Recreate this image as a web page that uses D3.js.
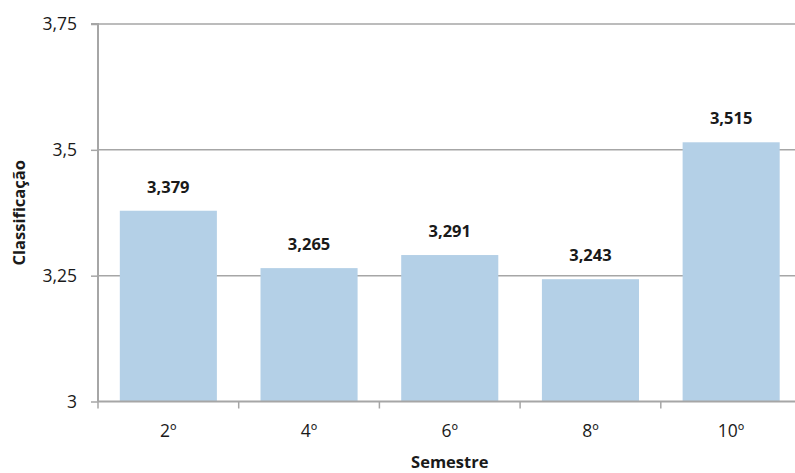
<!DOCTYPE html>
<html>
<head>
<meta charset="utf-8">
<script src="https://cdn.jsdelivr.net/npm/d3@7"></script>
<style>
  html, body { margin: 0; padding: 0; background: #fff; }
  svg { display: block; }
  text { font-family: "Open Sans", "Noto Sans", sans-serif; fill: #1a1a1a; }
</style>
</head>
<body>
<svg id="chart" width="795" height="473"></svg>
<script>
// Average classification per semester
const semesters = ["2º", "4º", "6º", "8º", "10º"];
const scores = [3.379, 3.265, 3.291, 3.243, 3.515];
const yTicks = [3, 3.25, 3.5, 3.75];
const yTickLabels = ["3", "3,25", "3,5", "3,75"];

const svg = d3.select("#chart");
const margin = { left: 98, top: 24 };
const plotW = 703.5, plotH = 377.5;

const g = svg.append("g").attr("transform", `translate(${margin.left},${margin.top})`);

const x = d3.scaleBand().domain(semesters).range([0, plotW]).paddingInner(0.31).paddingOuter(0.155);
const y = d3.scaleLinear().domain([3, 3.75]).range([plotH, 0]);

// horizontal gridlines
g.selectAll("line.grid").data(yTicks.slice(1)).enter().append("line")
  .attr("class", "grid")
  .attr("x1", 0).attr("x2", plotW)
  .attr("y1", d => y(d)).attr("y2", d => y(d))
  .attr("stroke", "#a6a6a6").attr("stroke-width", 1.5);

// bars
g.selectAll("rect.bar").data(scores).enter().append("rect")
  .attr("class", "bar")
  .attr("x", (d, i) => x(semesters[i]))
  .attr("width", x.bandwidth())
  .attr("y", d => y(d))
  .attr("height", d => plotH - y(d))
  .attr("fill", "#b4d0e7");

// value labels
g.selectAll("text.val").data(scores).enter().append("text")
  .attr("class", "val")
  .attr("x", (d, i) => x(semesters[i]) + x.bandwidth() / 2)
  .attr("y", d => y(d) - 18)
  .attr("text-anchor", "middle")
  .attr("font-size", 16.5)
  .attr("font-weight", "bold")
  .text(d => d3.format(".3f")(d).replace(".", ","));

// y axis
const yAxis = d3.axisLeft(y).tickValues(yTicks).tickSize(7).tickPadding(14)
  .tickFormat((d, i) => yTickLabels[i]);
const yg = g.append("g").call(yAxis);
yg.select(".domain").attr("stroke", "#a6a6a6").attr("stroke-width", 2).attr("d", `M-7,0H0V${plotH}`);
yg.selectAll(".tick line").attr("stroke", "#a6a6a6").attr("stroke-width", 1.5);
yg.selectAll(".tick text").attr("font-size", 17.5).attr("font-family", "'Open Sans', sans-serif").attr("fill", "#1a1a1a");

// x axis with ticks at category boundaries
const xg = g.append("g").attr("transform", `translate(0,${plotH})`);
xg.append("line").attr("x1", 0).attr("x2", plotW).attr("stroke", "#a6a6a6").attr("stroke-width", 2);
const step = x.step();
xg.selectAll("line.tk").data(d3.range(semesters.length + 1)).enter().append("line")
  .attr("class", "tk")
  .attr("x1", i => i * step).attr("x2", i => i * step)
  .attr("y1", 0).attr("y2", 7)
  .attr("stroke", "#a6a6a6").attr("stroke-width", 1.5);
xg.selectAll("text.cat").data(semesters).enter().append("text")
  .attr("class", "cat")
  .attr("x", d => x(d) + x.bandwidth() / 2)
  .attr("y", 35)
  .attr("text-anchor", "middle")
  .attr("font-size", 17.5)
  .text(d => d);

// axis titles
svg.append("text")
  .attr("x", margin.left + plotW / 2).attr("y", 468)
  .attr("text-anchor", "middle").attr("font-size", 16.5).attr("font-weight", "bold")
  .text("Semestre");
svg.append("text")
  .attr("transform", `translate(25,${margin.top + plotH / 2}) rotate(-90)`)
  .attr("text-anchor", "middle").attr("font-size", 16.5).attr("font-weight", "bold")
  .text("Classificação");
</script>
</body>
</html>
